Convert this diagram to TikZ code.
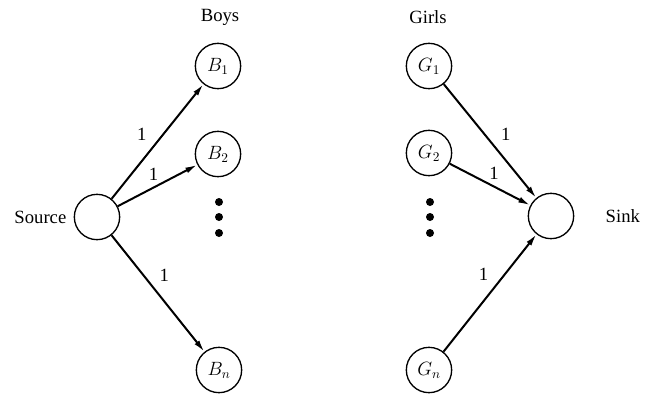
\documentclass[tikz,border=0pt]{standalone}
\usepackage{fontspec}
\setmainfont{Liberation Serif}
\usepackage{tikz}
\usetikzlibrary{positioning, arrows.meta}

\begin{document}
\begin{tikzpicture}[x=0.75pt, y=-0.75pt, >={Latex[length=9pt,width=4.5pt]},
  font=\fontsize{14}{16}\selectfont,
  vertex/.style={circle, draw, line width=1pt, minimum size=34pt, inner sep=0pt},
  flow/.style={->, line width=1.5pt},
  dot/.style={circle, fill, inner sep=0pt, minimum size=6pt}]
  \useasboundingbox (0,0) rectangle (646,394);
  % source and sink
  \node[vertex] (source) at (97,217) {};
  \node[vertex] (sink) at (551,216) {};
  \node[left=2pt of source] (srclbl) {Source};
  \node[right=20pt of sink] (snklbl) {Sink};
  % boys
  \node (boys) at (220,17) {Boys};
  \node[vertex] (b1) at (218,66) {$B_1$};
  \node[vertex] (b2) at (218,154) {$B_2$};
  \node[vertex] (bn) at (219,370) {$B_n$};
  \node[dot] (bd1) at (219,202) {};
  \node[dot] (bd2) at (219,217) {};
  \node[dot] (bd3) at (219,233) {};
  % girls
  \node (girls) at (428,17) {Girls};
  \node[vertex] (g1) at (429,66) {$G_1$};
  \node[vertex] (g2) at (429,153) {$G_2$};
  \node[vertex] (gn) at (429,370) {$G_n$};
  \node[dot] (gd1) at (430,202) {};
  \node[dot] (gd2) at (430,217) {};
  \node[dot] (gd3) at (430,233) {};
  % edges with capacity 1
  \draw[flow] (source) -- node[pos=0.45, above left=1pt] {1} (b1);
  \draw[flow] (source) -- node[pos=0.45, above=1pt] {1} (b2);
  \draw[flow] (source) -- node[pos=0.45, above right=1pt] {1} (bn);
  \draw[flow] (g1) -- node[pos=0.55, above right=1pt] {1} (sink);
  \draw[flow] (g2) -- node[pos=0.55, above=1pt] {1} (sink);
  \draw[flow] (gn) -- node[pos=0.55, above left=1pt] {1} (sink);
\end{tikzpicture}
\end{document}
